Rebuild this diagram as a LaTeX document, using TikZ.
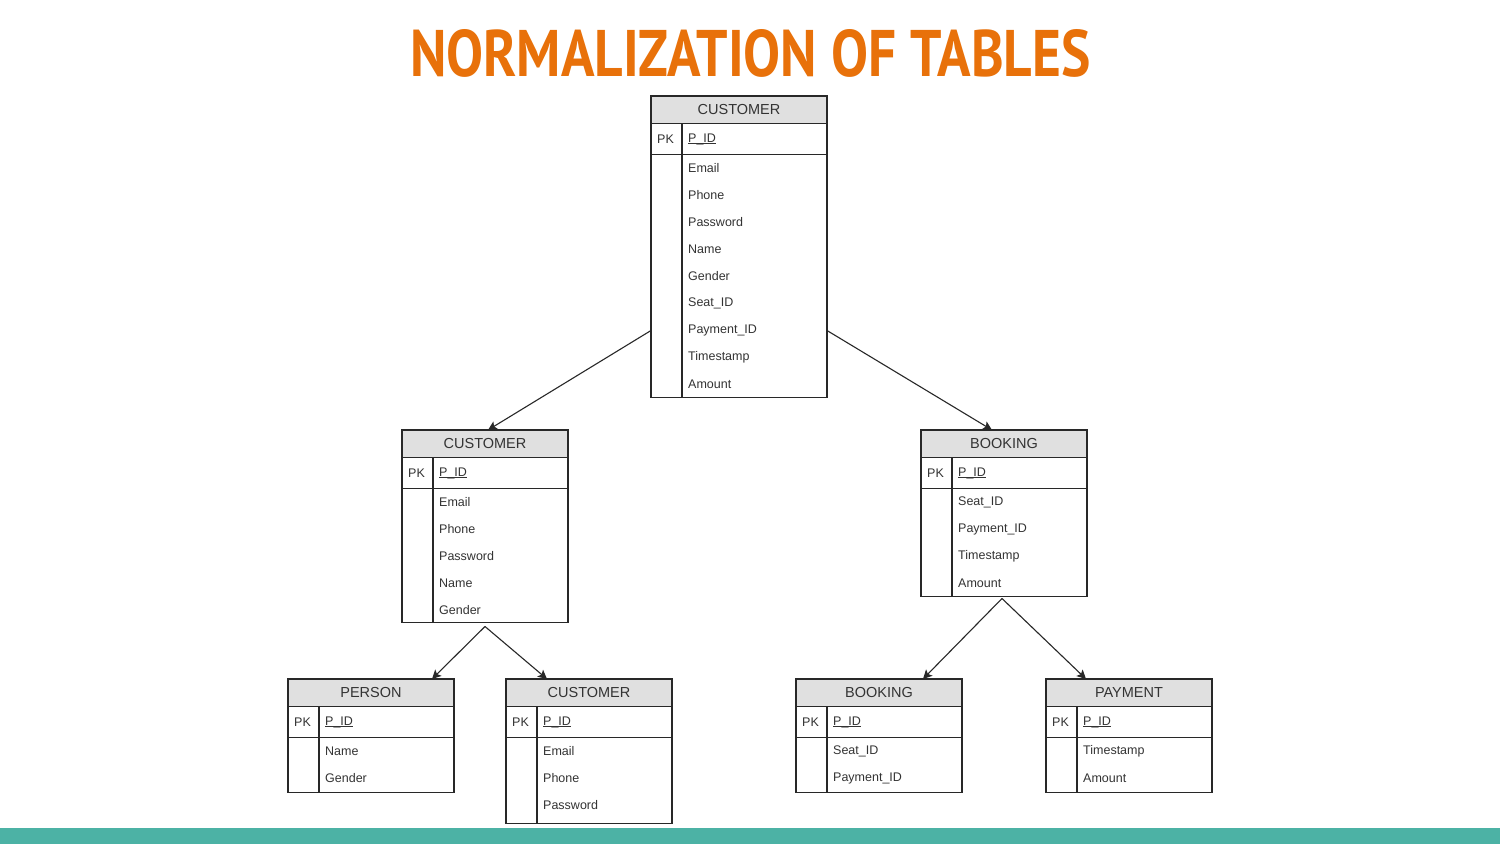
\documentclass[tikz,border=0pt]{standalone}
\usepackage{fontspec}
\setmainfont{Liberation Sans}
\newfontfamily\titlefont{PT Sans}
\usetikzlibrary{calc,arrows.meta}
\definecolor{titleorange}{RGB}{232,113,10}
\definecolor{barteal}{RGB}{76,178,165}
\definecolor{hdrgrey}{RGB}{224,224,224}
\definecolor{inkgrey}{RGB}{51,51,51}
\definecolor{linegrey}{RGB}{40,40,40}
\newcommand{\keyline}[1]{\setbox0\hbox{#1}\rlap{\rule[-2.3pt]{\wd0}{0.9pt}}\box0}
\newcommand{\erdtab}[7]{% name, x, y, width, title, body height, fields
  \node[hdrbox, minimum width=#4pt, anchor=north west] (#1h) at (#2,#3) {#5};
  \node[pkbox, minimum width=#4pt, anchor=north west] (#1k) at (#1h.south west) {};
  \node[bodybox, minimum width=#4pt, minimum height=#6pt, anchor=north west] (#1b) at (#1k.south west) {};
  \draw[tabline] ($(#1k.north west)+(31,0)$) -- ($(#1b.south west)+(31,0)$);
  \node[pktxt, anchor=west] (#1pk) at ($(#1k.west)+(6,0)$) {PK};
  \node[pktxt, anchor=west] (#1id) at ($(#1k.west)+(37,0)$) {\keyline{P\_ID}};
  \foreach \f [count=\i] in {#7} {
    \pgfmathsetmacro{\dy}{13.5+27*(\i-1)}
    \node[fldtxt, anchor=west] (#1f\i) at ($(#1b.north west)+(37,\dy)$) {\f};
  }
}
\begin{document}
\begin{tikzpicture}[x=1pt,y=-1pt,
  tabline/.style={draw=linegrey, line width=1.2pt},
  hdrbox/.style={tabline, fill=hdrgrey, minimum height=27.5pt, inner sep=0pt, outer sep=0pt, text=inkgrey, font=\fontsize{14.5}{16}\selectfont},
  pkbox/.style={tabline, fill=white, minimum height=31pt, inner sep=0pt, outer sep=0pt},
  bodybox/.style={tabline, fill=white, inner sep=0pt, outer sep=0pt},
  pktxt/.style={inner sep=0pt, text=inkgrey, font=\fontsize{12.5}{14}\selectfont},
  fldtxt/.style={inner sep=0pt, text=inkgrey, font=\fontsize{12.5}{14}\selectfont},
  arr/.style={draw=linegrey, line width=1.1pt, -{Stealth[length=9pt,width=9pt,inset=2pt]}}
]
\useasboundingbox (0,0) rectangle (1500,844);
\fill[white] (0,0) rectangle (1500,844);
% title
\node[inner sep=0pt, anchor=south west, text=titleorange] (title) at (410,78)
  {\resizebox{680pt}{47pt}{\titlefont\bfseries NORMALIZATION OF TABLES}};
% bottom bar
\fill[barteal] (0,828) rectangle (1500,844);
% tables
\erdtab{ta}{651}{96}{176}{CUSTOMER}{243}{Email,Phone,Password,Name,Gender,Seat\_ID,Payment\_ID,Timestamp,Amount}
\draw[draw=linegrey, line width=2pt] (tah.north west) -- (tah.north east);
\erdtab{tb}{402}{430}{166}{CUSTOMER}{134}{Email,Phone,Password,Name,Gender}
\erdtab{tc}{921}{430}{166}{BOOKING}{108}{Seat\_ID,Payment\_ID,Timestamp,Amount}
\erdtab{td}{288}{679}{166}{PERSON}{55}{Name,Gender}
\erdtab{te}{506}{679}{166}{CUSTOMER}{86}{Email,Phone,Password}
\erdtab{tf}{796}{679}{166}{BOOKING}{55}{Seat\_ID,Payment\_ID}
\erdtab{tg}{1046}{679}{166}{PAYMENT}{55}{Timestamp,Amount}
% connectors
\draw[arr] ($(tab.south west)+(0,-67)$) -- ($(tbh.north)+(3,0)$);
\draw[arr] ($(tab.south east)+(0,-67)$) -- ($(tch.north)+(-12,0)$);
\draw[arr] ($(tbb.south)+(0,4)$) -- ($(tdh.north east)+(-22,0)$);
\draw[arr] ($(tbb.south)+(0,4)$) -- ($(teh.north west)+(41,0)$);
\draw[arr] ($(tcb.south)+(-2,2)$) -- ($(tfh.north east)+(-39,0)$);
\draw[arr] ($(tcb.south)+(-2,2)$) -- ($(tgh.north west)+(40,0)$);
\end{tikzpicture}
\end{document}
